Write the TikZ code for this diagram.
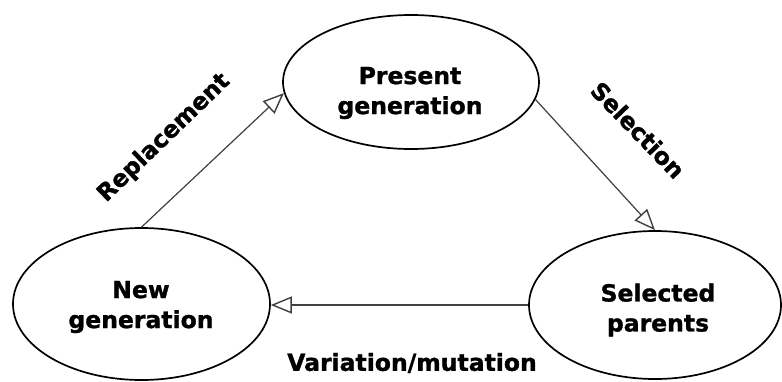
\documentclass[tikz,border=0pt]{standalone}
\usepackage{fontspec}
\setmainfont{DejaVu Sans}
\newfontfamily\heavyfont{DejaVu Sans Bold}[FakeBold=1.2]
\usetikzlibrary{arrows.meta,shapes.geometric}
\begin{document}
\begin{tikzpicture}[x=1pt,y=-1pt,
  stage/.style={draw=black,line width=1.7pt,ellipse,inner sep=0pt},
  stagetext/.style={font=\fontsize{23.5}{30}\heavyfont,align=center,inner sep=0pt},
  edgetext/.style={font=\fontsize{23.5}{28}\heavyfont,inner sep=0pt},
  flow/.style={draw=black!75,line width=1.2pt,
    -{Triangle[open,length=21pt,width=17pt,line width=1.4pt]}}]
  \useasboundingbox[fill=white] (0,0) rectangle (782,381);

  % the three stages of the cycle
  \node[stage,minimum width=256pt,minimum height=134pt] (present) at (411,82) {};
  \node[stage,minimum width=257pt,minimum height=152pt] (new) at (141.5,304) {};
  \node[stage,minimum width=252pt,minimum height=148pt] (selected) at (655,305) {};

  \node[stagetext] (presentT) at (410,93) {Present\\generation};
  \node[stagetext] (newT) at (141,307) {New\\generation};
  \node[stagetext] (selectedT) at (658,310) {Selected\\parents};

  % transitions
  \draw[flow] (present.-8) -- (selected.north);
  \draw[flow] (selected.west) -- (selected.west -| new.east);
  \draw[flow] (new.north) -- (present.185);

  \node[edgetext,rotate=44] (repl) at (164,138) {Replacement};
  \node[edgetext,rotate=-46] (sel) at (638,130) {Selection};
  \node[edgetext] (var) at (412,363) {Variation/mutation};
\end{tikzpicture}
\end{document}
